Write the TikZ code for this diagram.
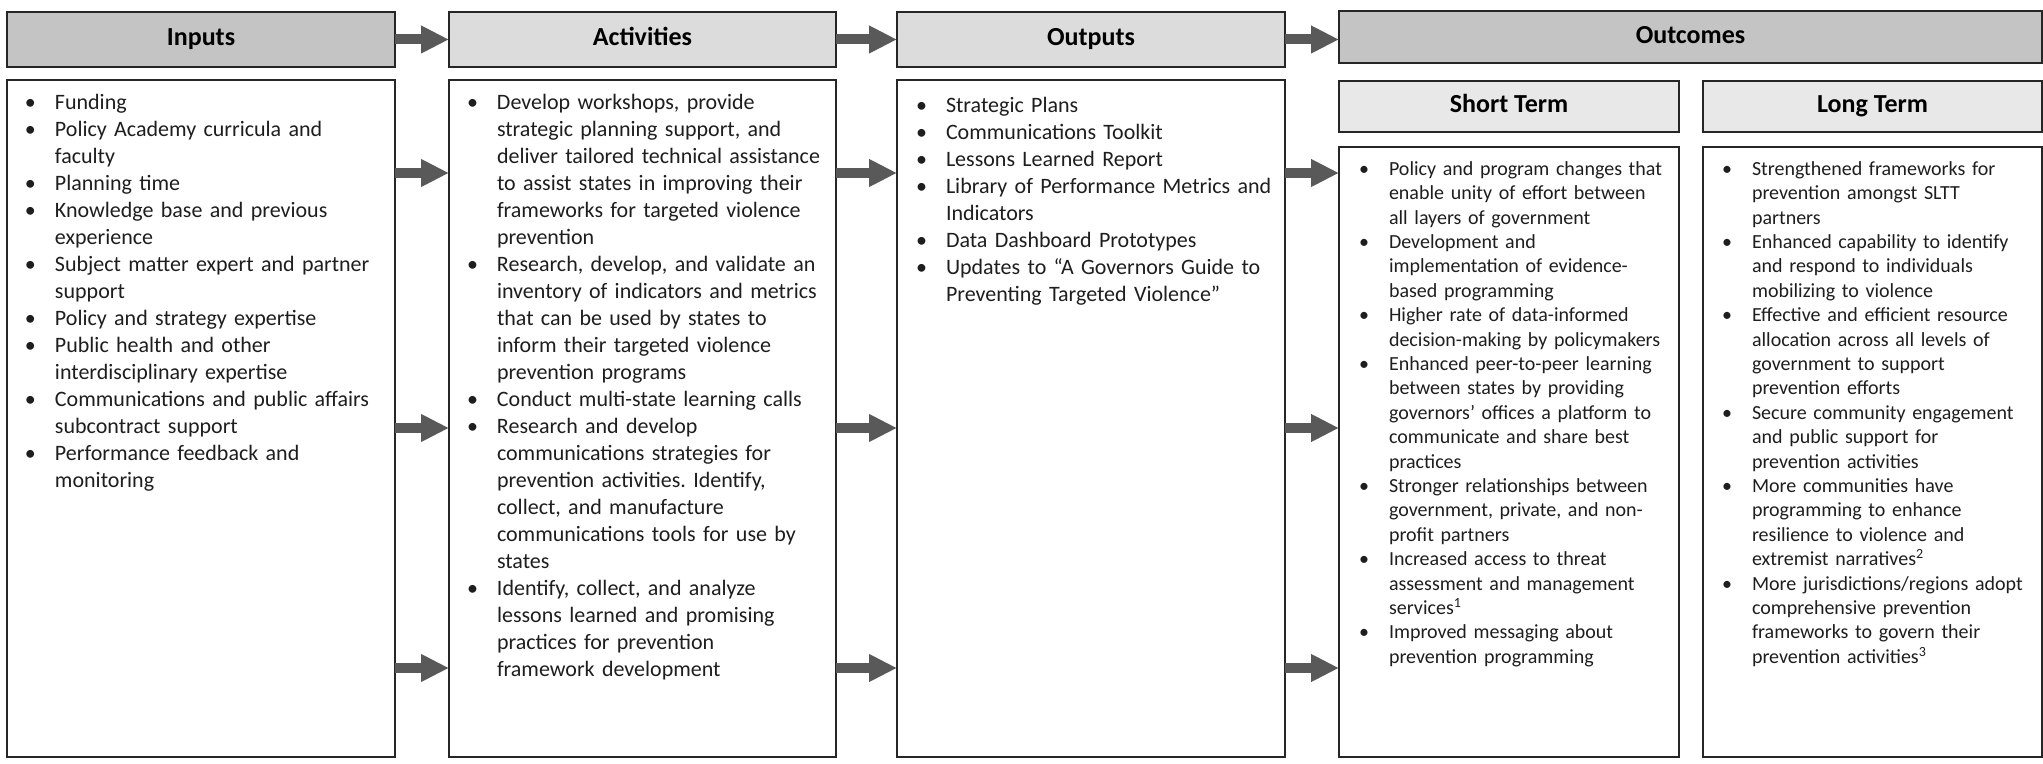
\documentclass[tikz,border=0pt]{standalone}
\usepackage{fontspec}
\setmainfont{Carlito}
\usepackage{xcolor}
\usetikzlibrary{arrows.meta,positioning,calc}
\definecolor{boxline}{HTML}{262626}
\definecolor{hdrdark}{HTML}{C4C4C4}
\definecolor{hdrlight}{HTML}{DCDCDC}
\definecolor{subhdr}{HTML}{E8E8E8}
\definecolor{arrowgray}{HTML}{595959}
\definecolor{bodytext}{HTML}{1E1E1E}
\newcommand{\itm}{\par\noindent\hangindent=15pt\hangafter=1\makebox[15pt][l]{\textbullet}}
\newcommand{\nl}{\newline}

\begin{document}
\begin{tikzpicture}[
    x=0.5pt, y=-0.5pt,
    every node/.style={inner sep=0, outer sep=0, anchor=north west},
    frame/.style={draw=boxline, line width=1.2pt},
    head/.style={frame, font=\bfseries\fontsize{13}{15}\selectfont, align=center, text height=9pt, text depth=2.5pt},
    darkhead/.style={head, fill=hdrdark},
    lighthead/.style={head, fill=hdrlight},
    subhead/.style={head, fill=subhdr},
    body/.style={frame, fill=white},
    list/.style={text=bodytext, font=\frenchspacing\fontsize{11}{13.5}\selectfont},
    smalllist/.style={list, font=\frenchspacing\fontsize{10}{12.2}\selectfont},
    flow/.style={draw=arrowgray, line width=5pt, -{Triangle[length=14pt, width=13pt]}}]
\useasboundingbox (0,0) rectangle (2043,764);

\node[darkhead, minimum width=194pt, minimum height=27.5pt] (inputsHead) at (7,12) {Inputs};
\node[lighthead, minimum width=193.5pt, minimum height=27.5pt] (activitiesHead) at (449,12) {Activities};
\node[lighthead, minimum width=194pt, minimum height=27.5pt] (outputsHead) at (897,12) {Outputs};
\node[darkhead, minimum width=351.5pt, minimum height=26pt] (outcomesHead) at (1339,11) {Outcomes};
\node[subhead, minimum width=170pt, minimum height=25.5pt] (shortHead) at (1339,81) {Short Term};
\node[subhead, minimum width=169.5pt, minimum height=25.5pt] (longHead) at (1703,81) {Long Term};

\node[body, minimum width=194pt, minimum height=338.5pt] (inputsBox) at (7,80) {};
\node[body, minimum width=193.5pt, minimum height=338.5pt] (activitiesBox) at (449,80) {};
\node[body, minimum width=194pt, minimum height=338.5pt] (outputsBox) at (897,80) {};
\node[body, minimum width=170pt, minimum height=305pt] (shortBox) at (1339,147) {};
\node[body, minimum width=169.5pt, minimum height=305pt] (longBox) at (1703,147) {};

\node[list, text width=188pt] (inputsList) at (25,83) {%
\itm Funding
\itm Policy Academy curricula and\nl faculty
\itm Planning time
\itm Knowledge base and previous\nl experience
\itm Subject matter expert and partner\nl support
\itm Policy and strategy expertise
\itm Public health and other\nl interdisciplinary expertise
\itm Communications and public affairs\nl subcontract support
\itm Performance feedback and\nl monitoring\par};

\node[list, text width=188pt] (activitiesList) at (467,83) {%
\itm Develop workshops, provide\nl strategic planning support, and\nl deliver tailored technical assistance\nl to assist states in improving their\nl frameworks for targeted violence\nl prevention
\itm Research, develop, and validate an\nl inventory of indicators and metrics\nl that can be used by states to\nl inform their targeted violence\nl prevention programs
\itm Conduct multi-state learning calls
\itm Research and develop\nl communications strategies for\nl prevention activities. Identify,\nl collect, and manufacture\nl communications tools for use by\nl states
\itm Identify, collect, and analyze\nl lessons learned and promising\nl practices for prevention\nl framework development\par};

\node[list, text width=188pt] (outputsList) at (916,86) {%
\itm Strategic Plans
\itm Communications Toolkit
\itm Lessons Learned Report
\itm Library of Performance Metrics and\nl Indicators
\itm Data Dashboard Prototypes
\itm Updates to “A Governors Guide to\nl Preventing Targeted Violence”\par};

\node[smalllist, text width=172pt] (shortList) at (1359,151) {%
\itm Policy and program changes that\nl enable unity of effort between\nl all layers of government
\itm Development and\nl implementation of evidence-\nl based programming
\itm Higher rate of data-informed\nl decision-making by policymakers
\itm Enhanced peer-to-peer learning\nl between states by providing\nl governors’ offices a platform to\nl communicate and share best\nl practices
\itm Stronger relationships between\nl government, private, and non-\nl profit partners
\itm Increased access to threat\nl assessment and management\nl services\textsuperscript{1}
\itm Improved messaging about\nl prevention programming\par};

\node[smalllist, text width=172pt] (longList) at (1722,151) {%
\itm Strengthened frameworks for\nl prevention amongst SLTT\nl partners
\itm Enhanced capability to identify\nl and respond to individuals\nl mobilizing to violence
\itm Effective and efficient resource\nl allocation across all levels of\nl government to support\nl prevention efforts
\itm Secure community engagement\nl and public support for\nl prevention activities
\itm More communities have\nl programming to enhance\nl resilience to violence and\nl extremist narratives\textsuperscript{2}
\itm More jurisdictions/regions adopt\nl comprehensive prevention\nl frameworks to govern their\nl prevention activities\textsuperscript{3}\par};

\coordinate (row1) at (0,173);
\coordinate (row2) at (0,428);
\coordinate (row3) at (0,668);

\path[flow] (inputsHead.east) -- (activitiesHead.west);
\path[flow] (activitiesHead.east) -- (outputsHead.west);
\path[flow] (outputsHead.east) -- (outcomesHead.west |- outputsHead.east);
\foreach \r in {row1,row2,row3} {
    \path[flow] (inputsBox.east |- \r) -- (activitiesBox.west |- \r);
    \path[flow] (activitiesBox.east |- \r) -- (outputsBox.west |- \r);
    \path[flow] (outputsBox.east |- \r) -- (shortBox.west |- \r);
}

\end{tikzpicture}
\end{document}
